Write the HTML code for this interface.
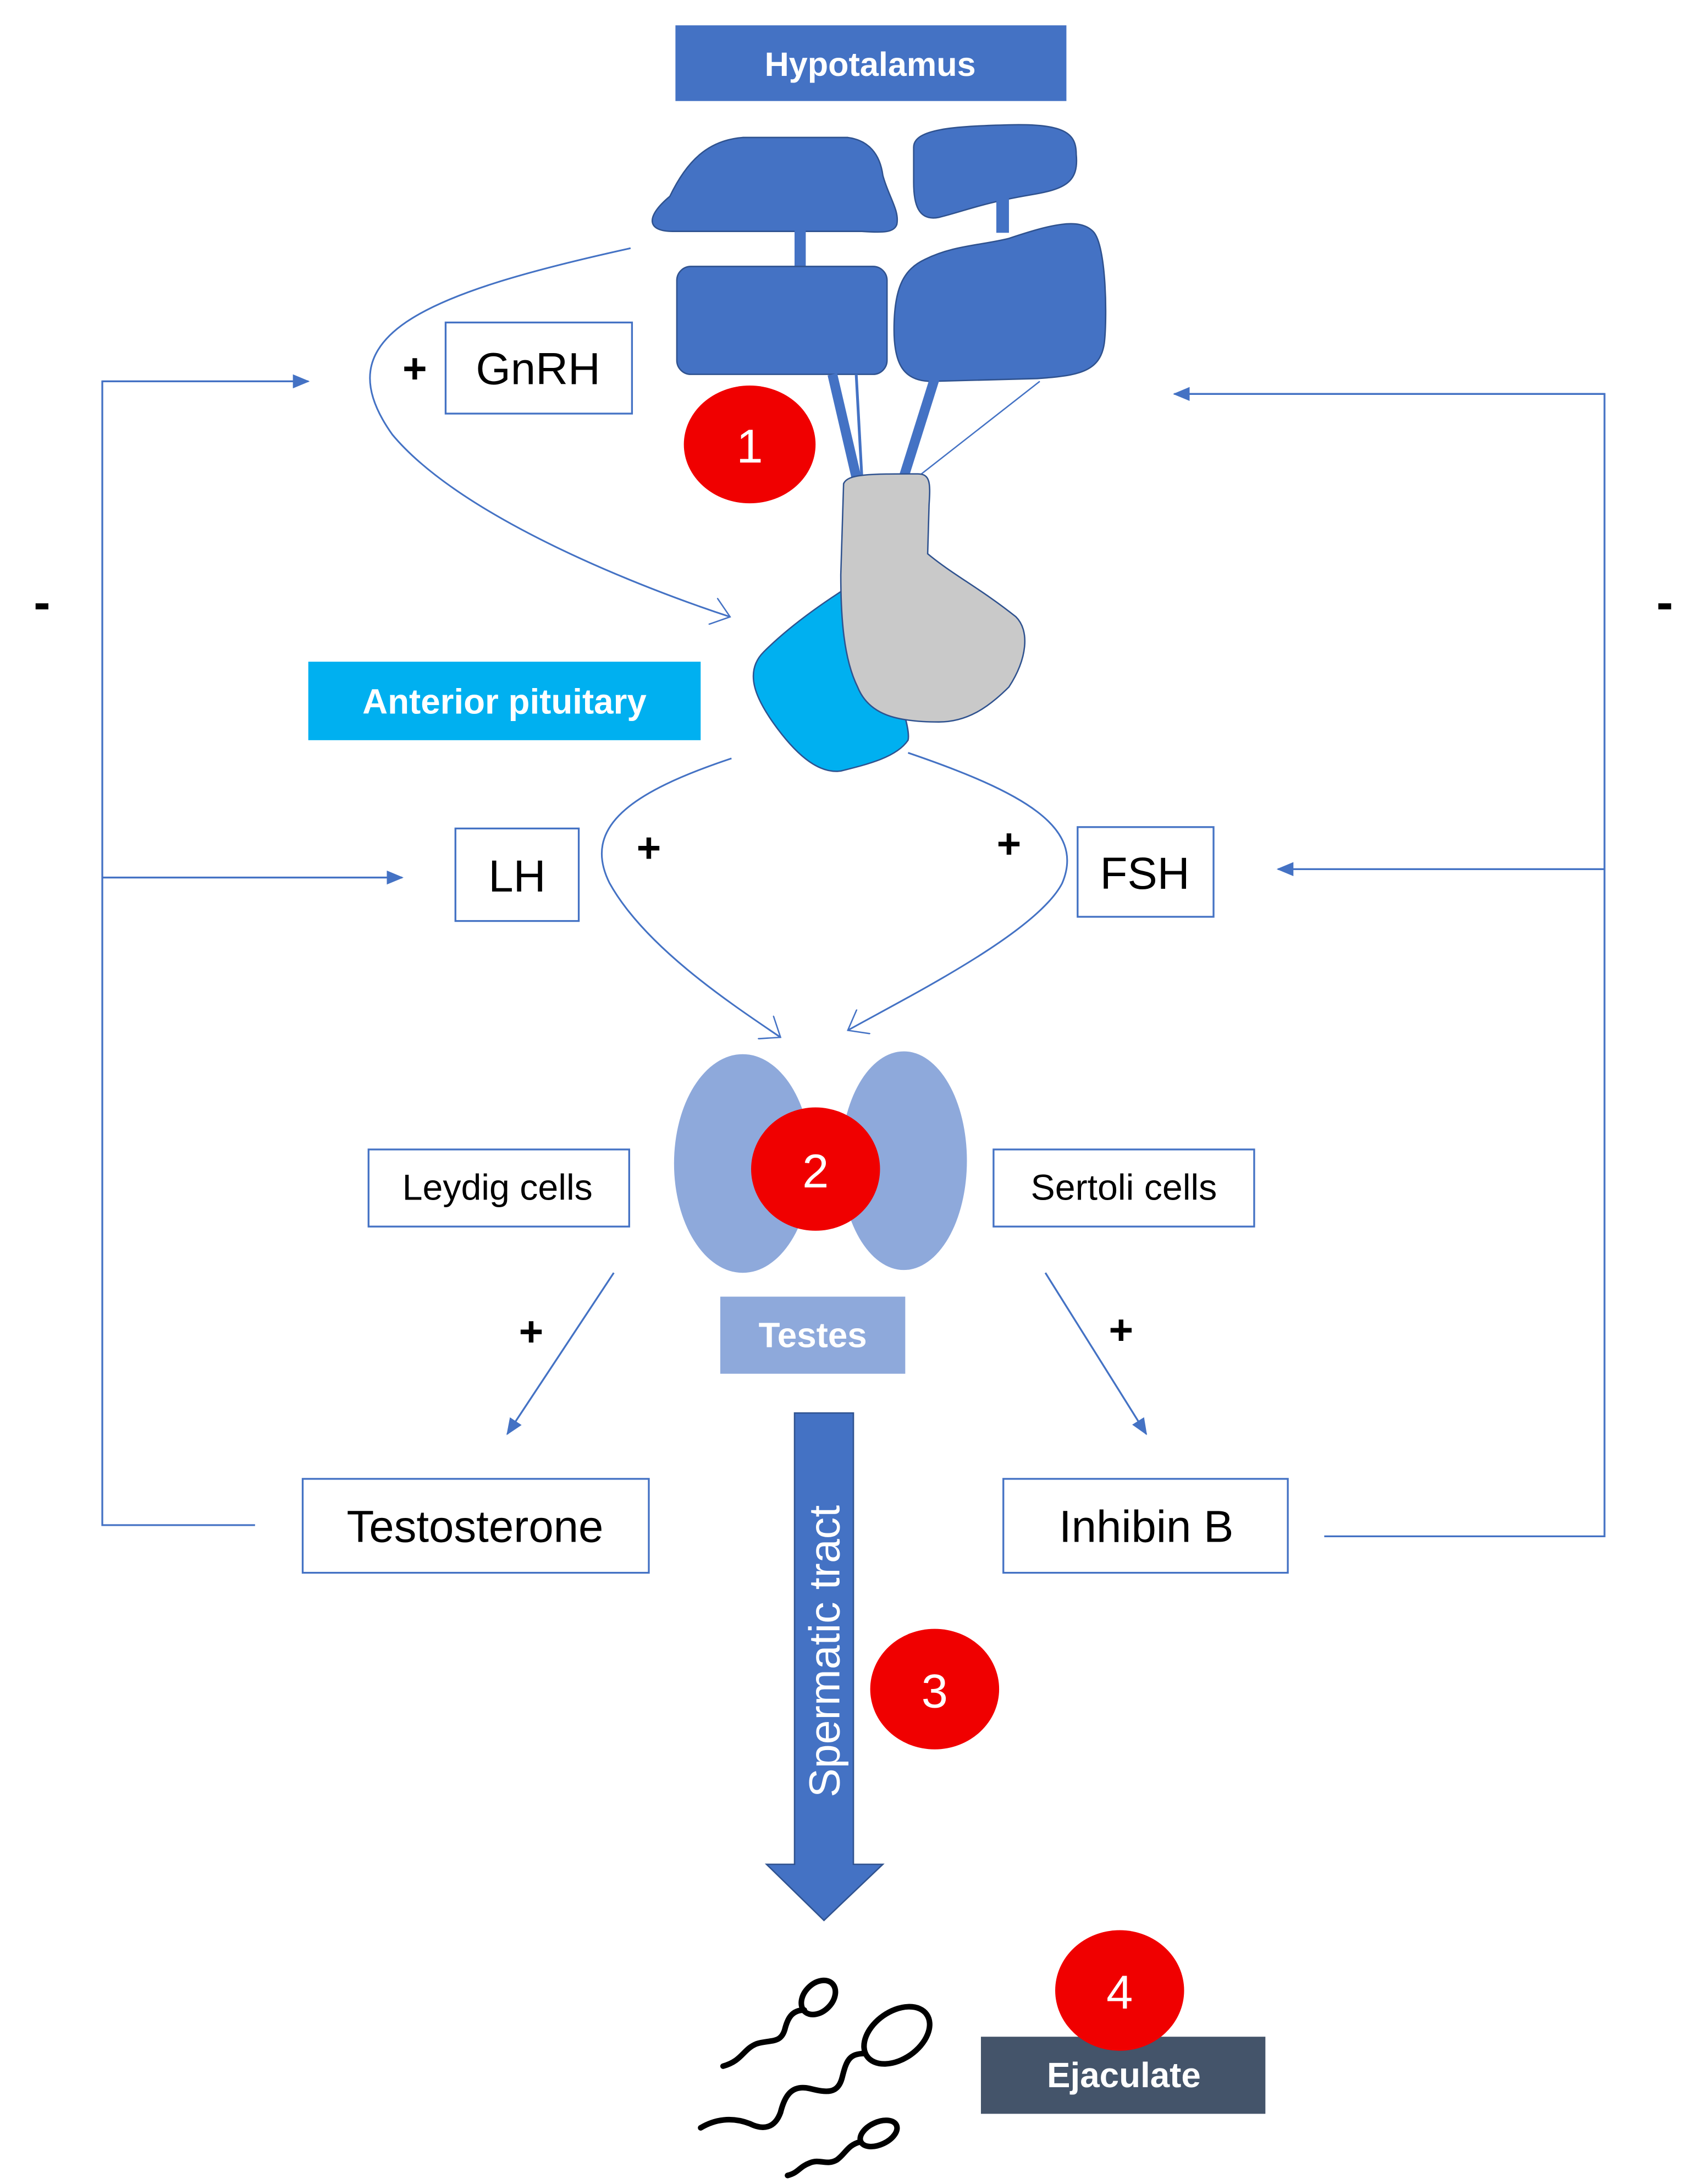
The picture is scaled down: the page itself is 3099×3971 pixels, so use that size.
<!DOCTYPE html>
<html><head><meta charset="utf-8"><style>
html,body{margin:0;padding:0;background:#fff}
svg{display:block}
text{font-family:"Liberation Sans",sans-serif}
</style></head><body>
<svg width="3099" height="3971" viewBox="0 0 1216 1558" xmlns="http://www.w3.org/2000/svg">
<defs>
<marker id="ah" markerWidth="12" markerHeight="10" refX="11" refY="5" orient="auto" markerUnits="userSpaceOnUse"><path d="M0,0 L12,5 L0,10 Z" fill="#4472C4"/></marker>
<marker id="oh" markerWidth="14" markerHeight="20" refX="13" refY="10" orient="auto" markerUnits="userSpaceOnUse"><path d="M0,0 L13,10 L0,20" fill="none" stroke="#4472C4" stroke-width="1"/></marker>
</defs>
<rect width="1216" height="1558" fill="#fff"/>
<!-- Hypothalamus -->
<rect x="482" y="18" width="279" height="54" fill="#4472C4"/>
<text x="621" y="54" font-size="24" font-weight="bold" fill="#fff" text-anchor="middle">Hypotalamus</text>
<path d="M478,140 C490,115 505,100 530,98 L605,98 C620,100 628,110 630,125 C634,140 642,150 640,160 C638,166 630,166 615,165 L480,165 C462,165 460,155 478,140 Z" fill="#4472C4" stroke="#2F528F" stroke-width="1"/>
<rect x="567" y="164" width="8" height="28" fill="#4472C4"/>
<rect x="483" y="190" width="150" height="77" rx="10" fill="#4472C4" stroke="#2F528F" stroke-width="1"/>
<path d="M652,105 C652,92 680,90 720,89 C760,88 768,95 768,110 C770,130 760,135 735,139 C700,145 690,150 670,155 C655,158 652,145 652,130 Z" fill="#4472C4" stroke="#2F528F" stroke-width="1"/>
<rect x="711" y="136" width="9" height="30" fill="#4472C4"/>
<path d="M660,185 C680,175 700,175 720,170 C750,160 770,155 780,165 C790,175 790,230 788,245 C785,265 770,268 740,270 L665,272 C645,272 638,260 638,235 C638,205 645,192 660,185 Z" fill="#4472C4" stroke="#2F528F" stroke-width="1"/>
<!-- stalks -->
<line x1="594" y1="267" x2="611" y2="340" stroke="#4472C4" stroke-width="7"/>
<line x1="611" y1="267" x2="615" y2="340" stroke="#4472C4" stroke-width="2"/>
<line x1="667" y1="270" x2="645" y2="340" stroke="#4472C4" stroke-width="7"/>
<line x1="742" y1="272" x2="655" y2="340" stroke="#4472C4" stroke-width="1"/>
<!-- pituitary -->
<path d="M600,422 C580,435 560,450 545,465 C530,480 540,500 555,520 C570,540 585,552 600,550 C620,545 640,540 648,528 C650,520 640,490 630,470 Z" fill="#00B0F0" stroke="#2F528F" stroke-width="1"/>
<path d="M602,345 C605,338 620,338 655,338 C664,338 664,345 663,360 L662,395 C680,410 700,420 725,440 C735,450 733,470 720,490 C705,505 690,515 670,515 C640,515 620,510 612,490 C602,470 600,440 600,410 Z" fill="#C9C9C9" stroke="#2F528F" stroke-width="1"/>
<rect x="220" y="472" width="280" height="56" fill="#00B0F0"/>
<text x="360" y="509" font-size="25" font-weight="bold" fill="#fff" text-anchor="middle">Anterior pituitary</text>
<!-- GnRH -->
<path d="M450,177 C300,210 230,240 280,310 C330,370 460,420 521,440" fill="none" stroke="#4472C4" stroke-width="1.2" marker-end="url(#oh)"/>
<text x="296" y="273" font-size="30" font-weight="bold" text-anchor="middle">+</text>
<rect x="318" y="230" width="133" height="65" fill="#fff" stroke="#4472C4" stroke-width="1.3"/>
<text x="384" y="274" font-size="32" text-anchor="middle">GnRH</text>
<ellipse cx="535" cy="317" rx="47" ry="42" fill="#F00000"/>
<text x="535" y="330" font-size="34" fill="#fff" text-anchor="middle">1</text>
<!-- feedback left -->
<text x="30" y="442" font-size="36" font-weight="bold" text-anchor="middle">-</text>
<polyline points="220,272 73,272 73,1088 182,1088" fill="none" stroke="#4472C4" stroke-width="1.3"/>
<line x1="73" y1="272" x2="220" y2="272" stroke="#4472C4" stroke-width="1.3" marker-end="url(#ah)"/>
<line x1="73" y1="626" x2="287" y2="626" stroke="#4472C4" stroke-width="1.3" marker-end="url(#ah)"/>
<!-- feedback right -->
<text x="1188" y="442" font-size="36" font-weight="bold" text-anchor="middle">-</text>
<polyline points="838,281 1145,281 1145,1096 945,1096" fill="none" stroke="#4472C4" stroke-width="1.3"/>
<line x1="1145" y1="281" x2="838" y2="281" stroke="#4472C4" stroke-width="1.3" marker-end="url(#ah)"/>
<line x1="1145" y1="620" x2="912" y2="620" stroke="#4472C4" stroke-width="1.3" marker-end="url(#ah)"/>
<!-- LH/FSH curves -->
<path d="M522,541 C450,565 415,590 435,630 C460,675 520,715 557,740" fill="none" stroke="#4472C4" stroke-width="1.2" marker-end="url(#oh)"/>
<path d="M648,537 C730,565 775,590 758,630 C740,665 650,710 605,735" fill="none" stroke="#4472C4" stroke-width="1.2" marker-end="url(#oh)"/>
<text x="463" y="615" font-size="30" font-weight="bold" text-anchor="middle">+</text>
<text x="720" y="612" font-size="30" font-weight="bold" text-anchor="middle">+</text>
<rect x="325" y="591" width="88" height="66" fill="#fff" stroke="#4472C4" stroke-width="1.3"/>
<text x="369" y="636" font-size="32" text-anchor="middle">LH</text>
<rect x="769" y="590" width="97" height="64" fill="#fff" stroke="#4472C4" stroke-width="1.3"/>
<text x="817" y="634" font-size="32" text-anchor="middle">FSH</text>
<!-- testes -->
<ellipse cx="530" cy="830" rx="49" ry="78" fill="#8EA9DB"/>
<ellipse cx="645" cy="828" rx="45" ry="78" fill="#8EA9DB"/>
<ellipse cx="582" cy="834" rx="46" ry="44" fill="#F00000"/>
<text x="582" y="847" font-size="34" fill="#fff" text-anchor="middle">2</text>
<rect x="263" y="820" width="186" height="55" fill="#fff" stroke="#4472C4" stroke-width="1.3"/>
<text x="355" y="856" font-size="26" text-anchor="middle">Leydig cells</text>
<rect x="709" y="820" width="186" height="55" fill="#fff" stroke="#4472C4" stroke-width="1.3"/>
<text x="802" y="856" font-size="26" text-anchor="middle">Sertoli cells</text>
<rect x="514" y="925" width="132" height="55" fill="#8EA9DB"/>
<text x="580" y="961" font-size="25" font-weight="bold" fill="#fff" text-anchor="middle">Testes</text>
<line x1="438" y1="908" x2="362" y2="1023" stroke="#4472C4" stroke-width="1.3" marker-end="url(#ah)"/>
<line x1="746" y1="908" x2="818" y2="1023" stroke="#4472C4" stroke-width="1.3" marker-end="url(#ah)"/>
<text x="379" y="960" font-size="30" font-weight="bold" text-anchor="middle">+</text>
<text x="800" y="959" font-size="30" font-weight="bold" text-anchor="middle">+</text>
<rect x="216" y="1055" width="247" height="67" fill="#fff" stroke="#4472C4" stroke-width="1.3"/>
<text x="339" y="1100" font-size="32" text-anchor="middle">Testosterone</text>
<rect x="716" y="1055" width="203" height="67" fill="#fff" stroke="#4472C4" stroke-width="1.3"/>
<text x="818" y="1100" font-size="32" text-anchor="middle">Inhibin B</text>
<!-- spermatic tract arrow -->
<path d="M567,1008 L609,1008 L609,1330 L630,1330 L588,1370 L547,1330 L567,1330 Z" fill="#4472C4" stroke="#2F528F" stroke-width="1"/>
<text transform="translate(599,1178) rotate(-90)" font-size="31" fill="#fff" text-anchor="middle">Spermatic tract</text>
<ellipse cx="667" cy="1205" rx="46" ry="43" fill="#F00000"/>
<text x="667" y="1218" font-size="34" fill="#fff" text-anchor="middle">3</text>
<!-- ejaculate -->
<rect x="700" y="1453" width="203" height="55" fill="#44546A"/>
<text x="802" y="1489" font-size="25" font-weight="bold" fill="#fff" text-anchor="middle">Ejaculate</text>
<ellipse cx="799" cy="1420" rx="46" ry="43" fill="#F00000"/>
<text x="799" y="1433" font-size="34" fill="#fff" text-anchor="middle">4</text>
<!-- sperm -->
<g fill="none" stroke="#000" stroke-width="4" stroke-linecap="round">
<ellipse cx="584" cy="1425" rx="14" ry="10" transform="rotate(-45 584 1425)"/>
<path d="M574,1434 C565,1434 562,1440 560,1448 C557,1458 550,1455 540,1458 C530,1462 530,1470 516,1474"/>
<ellipse cx="640" cy="1452" rx="26" ry="17" transform="rotate(-35 640 1452)"/>
<path d="M617,1465 C606,1465 604,1470 601,1482 C598,1494 590,1493 578,1490 C565,1487 560,1495 557,1507 C553,1518 545,1520 535,1515 C522,1510 510,1512 500,1518"/>
<ellipse cx="627" cy="1522" rx="14" ry="8" transform="rotate(-25 627 1522)"/>
<path d="M614,1528 C605,1530 603,1537 597,1541 C590,1545 585,1540 578,1543 C570,1546 570,1550 562,1552"/>
</g>
</svg>
</body></html>
